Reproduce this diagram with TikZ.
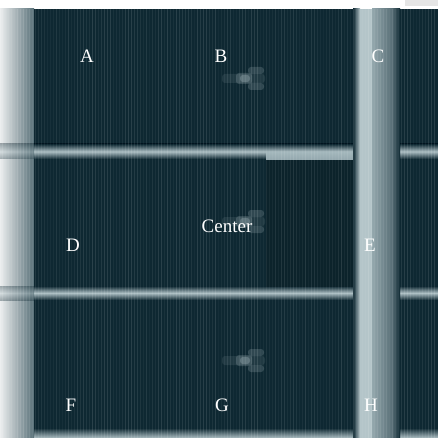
\documentclass[tikz,border=0pt]{standalone}
\usepackage{fontspec}
\setmainfont{Liberation Serif}
\usetikzlibrary{positioning}
\definecolor{tissue}{RGB}{14,40,50}
\definecolor{bandgrey}{RGB}{172,190,195}
\definecolor{edgegrey}{RGB}{88,112,120}

\begin{document}
\begin{tikzpicture}[x=1pt,y=-1pt,
  panellabel/.style={text=white,font=\fontsize{19}{21}\selectfont,anchor=base,inner sep=0pt},
  hband/.style={top color=tissue,bottom color=tissue,middle color=bandgrey,draw=none},
  blob/.style={fill=bandgrey,opacity=0.22,rounded corners=3pt},
  stripe/.style={line width=1pt}
]
  \useasboundingbox (0,0) rectangle (438,438);
  \fill[white] (0,0) rectangle (438,438);
  % faint smear in the top margin
  \fill[gray!40,opacity=0.5] (405,0) rectangle (438,6);

  % left fading edge and dark field
  \shade[left color=white!92!tissue,right color=edgegrey] (0,9) rectangle (34,438);
  \fill[tissue] (34,9) rectangle (438,438);

  % horizontal light bands
  \shade[hband] (34,144) rectangle (438,159);
  \shade[hband] (34,286) rectangle (438,300);
  \shade[top color=tissue,bottom color=bandgrey] (34,428) rectangle (438,438);
  \shade[hband,opacity=0.35] (0,144) rectangle (34,159);
  \shade[hband,opacity=0.35] (0,286) rectangle (34,300);

  % darker inner frame right of centre
  \fill[black,opacity=0.12] (266,160) rectangle (357,287);
  \fill[bandgrey!110!white,opacity=0.9] (266,152) rectangle (358,160);

  % vertical light band
  \shade[left color=tissue,right color=bandgrey!90!white] (353,9) rectangle (360,438);
  \fill[bandgrey!90!white] (360,9) rectangle (372,438);
  \shade[left color=bandgrey!85!tissue,right color=bandgrey!45!tissue] (372,9) rectangle (393,438);
  \shade[left color=bandgrey!40!tissue,right color=tissue] (393,9) rectangle (400,438);

  % scan-line texture
  \pgfmathsetseed{7}
  \foreach \i in {2,5,...,436}
    \pgfmathsetmacro{\op}{0.03+0.09*rnd}
    \draw[stripe,white,opacity=\op] (\i,9) -- (\i,438);

  % small bright marks
  \foreach \yy in {65,208,347} {
    \fill[blob] (236,\yy+8) rectangle (252,\yy+19);
    \fill[blob] (248,\yy+2) rectangle (264,\yy+9);
    \fill[blob] (248,\yy+18) rectangle (264,\yy+25);
    \fill[blob,opacity=0.3] (240,\yy+10) rectangle (250,\yy+17);
    \fill[blob,opacity=0.12] (222,\yy+9) rectangle (265,\yy+18);
  }

  % panel labels
  \node[panellabel] (lblA) at (87,63)  {A};
  \node[panellabel] (lblB) at (221,63) {B};
  \node[panellabel] (lblC) at (378,63) {C};
  \node[panellabel] (lblCenter) at (227,232) {Center};
  \node[panellabel] (lblD) at (73,251)  {D};
  \node[panellabel] (lblE) at (370,251) {E};
  \node[panellabel] (lblF) at (71,411)  {F};
  \node[panellabel] (lblG) at (222,411) {G};
  \node[panellabel] (lblH) at (371,411) {H};
\end{tikzpicture}
\end{document}
